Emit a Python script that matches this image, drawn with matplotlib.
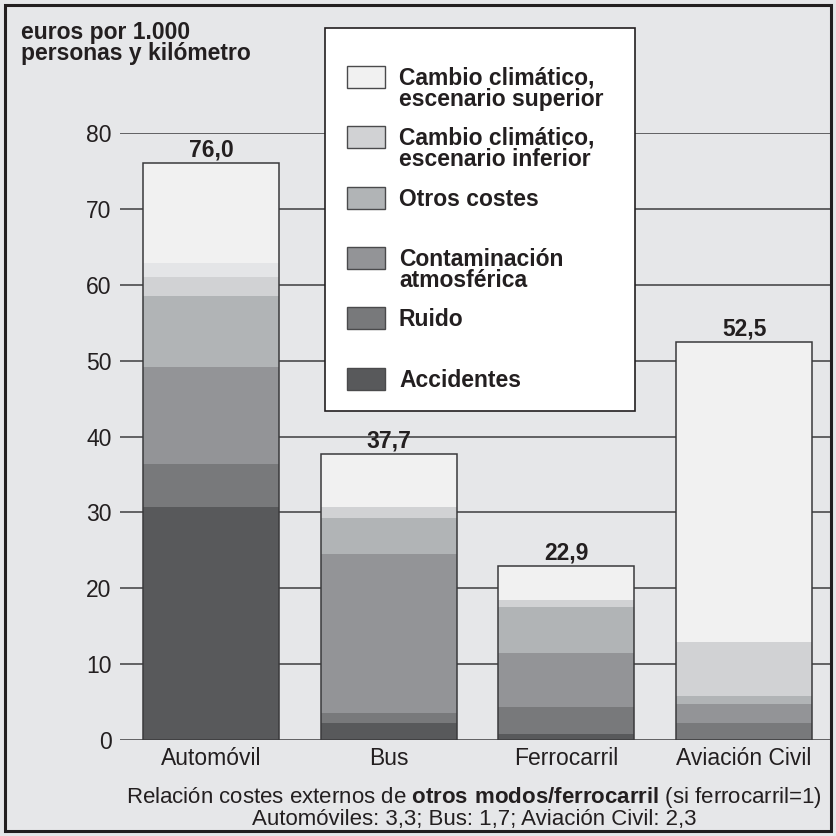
#%%
# necessary import
import matplotlib
matplotlib.use('Agg')
import matplotlib.pyplot as plt
from matplotlib.patches import Rectangle

plt.rcParams['font.family'] = ['Liberation Sans', 'DejaVu Sans']
plt.rcParams['mathtext.fontset'] = 'custom'
plt.rcParams['mathtext.rm'] = 'Liberation Sans'
plt.rcParams['mathtext.bf'] = 'Liberation Sans:bold'

#%%
# data (euros por 1.000 personas y km)
categorias = ['Automóvil', 'Bus', 'Ferrocarril', 'Aviación Civil']
accidentes = [30.7, 2.3, 0.75, 0.0]
ruido = [5.7, 1.2, 3.55, 2.2]
contaminacion = [12.7, 21.0, 7.15, 2.5]
otros_costes = [9.4, 4.75, 6.05, 1.1]
cc_inferior = [2.5, 1.45, 0.9, 7.1]
banda_sin_leyenda = [1.9, 0.0, 0.0, 0.0]
cc_superior = [13.1, 7.0, 4.5, 39.6]
totales = [76.0, 37.7, 22.9, 52.5]
totales_txt = ['76,0', '37,7', '22,9', '52,5']
yticks = [0, 10, 20, 30, 40, 50, 60, 70, 80]

series = [accidentes, ruido, contaminacion, otros_costes, cc_inferior, banda_sin_leyenda, cc_superior]
colores = ['#58595b', '#78797b', '#939497', '#b1b4b6', '#d1d2d4', '#e4e5e7', '#f1f1f1']

leyenda_txt = ['Cambio climático,\nescenario superior', 'Cambio climático,\nescenario inferior',
               'Otros costes', 'Contaminación\natmosférica', 'Ruido', 'Accidentes']
leyenda_col = ['#f1f1f1', '#d1d2d4', '#b1b4b6', '#939497', '#78797b', '#58595b']

bg = '#e6e7e9'
W = 836.0

#%%
fig = plt.figure(figsize=(8.36, 8.36), dpi=100, facecolor=bg)
ax = fig.add_axes([120 / W, 96 / W, 712 / W, 607 / W])
ax.set_facecolor(bg)

x = list(range(len(categorias)))
ancho = 0.765
base = [0.0] * len(categorias)
for vals, col in zip(series, colores):
    ax.bar(x, vals, ancho, bottom=base, color=col, edgecolor='none', zorder=2)
    base = [b + v for b, v in zip(base, vals)]
# outline of each full bar
ax.bar(x, totales, ancho, fill=False, edgecolor='#3a3a3c', linewidth=1.1, zorder=3)

for xi, t, s in zip(x, totales, totales_txt):
    ax.text(xi, t + 0.2, s, ha='center', va='bottom', fontsize=16.5, fontweight='bold', color='#231f20')

ax.set_xlim(-0.512, 3.495)
ax.set_ylim(0, 80)
ax.set_yticks(yticks)
ax.set_xticks(x)
ax.set_xticklabels(categorias)
ax.tick_params(axis='both', length=0, labelsize=16.5, colors='#231f20')
ax.tick_params(axis='y', pad=6)
ax.tick_params(axis='x', pad=5)
ax.yaxis.grid(True, color='#4a4a4c', linewidth=1.2, zorder=1)
ax.set_axisbelow(True)
for sp in ax.spines.values():
    sp.set_visible(False)

#%%
# legend box drawn by hand
fig.patches.append(Rectangle((325 / W, 1 - 411 / W), 310 / W, 383 / W, transform=fig.transFigure,
                             facecolor='white', edgecolor='#231f20', linewidth=1.2, zorder=5))
sw_top = [66, 126, 187, 247, 307, 368]
for top, txt, col in zip(sw_top, leyenda_txt, leyenda_col):
    fig.patches.append(Rectangle((347 / W, 1 - (top + 22) / W), 38 / W, 22 / W, transform=fig.transFigure,
                                 facecolor=col, edgecolor='#4a4a4c', linewidth=1.0, zorder=6))
    fig.text(399 / W, 1 - (top + 1) / W, txt, ha='left', va='top', fontsize=16.5, fontweight='bold',
             linespacing=0.88, color='#231f20', zorder=7)

#%%
# titles and notes
fig.text(21 / W, 1 - 21 / W, 'euros por 1.000\npersonas y kilómetro', ha='left', va='top',
         fontsize=16.5, fontweight='bold', linespacing=0.9, color='#231f20')
fig.text(474 / W, 1 - 797 / W,
         r'Relación costes externos de $\bf{otros\ modos/ferrocarril}$ (si ferrocarril=1)',
         ha='center', va='center', fontsize=16, color='#231f20')
fig.text(474 / W, 1 - 820 / W, 'Automóviles: 3,3; Bus: 1,7; Aviación Civil: 2,3',
         ha='center', va='center', fontsize=16, color='#231f20')

# outer frame
fig.patches.append(Rectangle((5 / W, 5 / W), 826 / W, 826 / W, transform=fig.transFigure,
                             fill=False, edgecolor='#231f20', linewidth=2.2, zorder=8))

fig.savefig('out.png', dpi=100, facecolor=bg)
